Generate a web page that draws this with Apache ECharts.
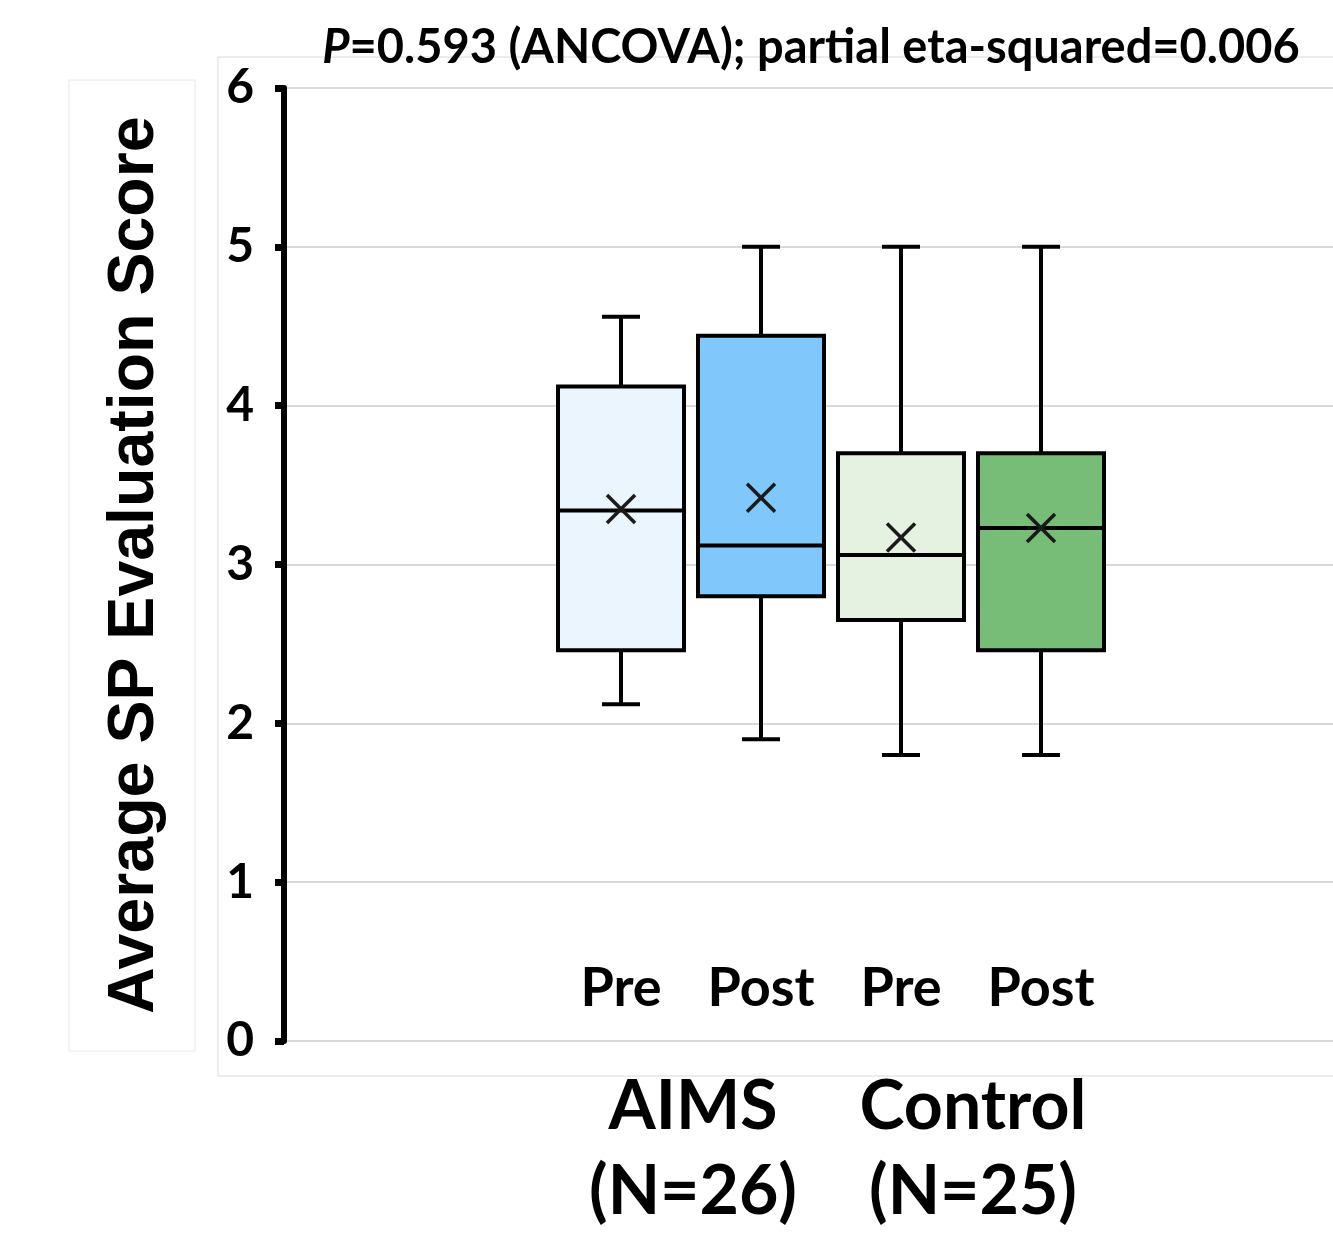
<!DOCTYPE html>
<html>
<head>
<meta charset="utf-8">
<script src="https://cdn.jsdelivr.net/npm/echarts@6/dist/echarts.min.js"></script>
<style>
  html, body { margin: 0; padding: 0; background: #fff; }
  #main { width: 1333px; height: 1245px; }
</style>
</head>
<body>
<div id="main"></div>
<script>
// box categories, left to right
var categories = ['Pre', 'Post', 'Pre', 'Post'];
var lows    = [2.12, 1.90, 1.80, 1.80];
var q1s     = [2.46, 2.80, 2.65, 2.46];
var medians = [3.34, 3.12, 3.06, 3.23];
var q3s     = [4.12, 4.44, 3.70, 3.70];
var highs   = [4.56, 5.00, 5.00, 5.00];
var means   = [3.35, 3.42, 3.17, 3.23];
var boxColors = ['#eaf5fe', '#80c8fc', '#e6f2e1', '#77bc77'];

var yTicks = [0, 1, 2, 3, 4, 5, 6];
var groupNames = ['AIMS', 'Control'];
var groupNs = ['(N=26)', '(N=25)'];
var titleItalic = 'P';
var titleRest = '=0.593 (ANCOVA); partial eta-squared=0.006';
var yName = 'Average SP Evaluation Score';

var FONT = 'Lato';

var boxData = categories.map(function (c, i) {
  return [i, lows[i], q1s[i], medians[i], q3s[i], highs[i], means[i]];
});

function renderBox(params, api) {
  var i = api.value(0);
  var band = api.size([1, 0])[0];
  var w = band * 0.9;
  var cap = 38;
  var pLow = api.coord([i, api.value(1)]);
  var pQ1 = api.coord([i, api.value(2)]);
  var pMed = api.coord([i, api.value(3)]);
  var pQ3 = api.coord([i, api.value(4)]);
  var pHigh = api.coord([i, api.value(5)]);
  var pMean = api.coord([i, api.value(6)]);
  var x = pQ1[0];
  var line = { stroke: '#000', lineWidth: 4 };
  var m = 14;
  return {
    type: 'group',
    children: [
      { type: 'line', shape: { x1: x, y1: pHigh[1], x2: x, y2: pQ3[1] }, style: line },
      { type: 'line', shape: { x1: x - cap / 2, y1: pHigh[1], x2: x + cap / 2, y2: pHigh[1] }, style: line },
      { type: 'line', shape: { x1: x, y1: pQ1[1], x2: x, y2: pLow[1] }, style: line },
      { type: 'line', shape: { x1: x - cap / 2, y1: pLow[1], x2: x + cap / 2, y2: pLow[1] }, style: line },
      { type: 'rect', shape: { x: x - w / 2, y: pQ3[1], width: w, height: pQ1[1] - pQ3[1] },
        style: { fill: boxColors[i], stroke: '#000', lineWidth: 4 } },
      { type: 'line', shape: { x1: x - w / 2, y1: pMed[1], x2: x + w / 2, y2: pMed[1] }, style: line },
      { type: 'line', shape: { x1: x - m, y1: pMean[1] - m, x2: x + m, y2: pMean[1] + m },
        style: { stroke: '#1a1a1a', lineWidth: 3.5 } },
      { type: 'line', shape: { x1: x + m, y1: pMean[1] - m, x2: x - m, y2: pMean[1] + m },
        style: { stroke: '#1a1a1a', lineWidth: 3.5 } }
    ]
  };
}

var chart = echarts.init(document.getElementById('main'));
chart.setOption({
  backgroundColor: '#fff',
  animation: false,
  grid: [
    { left: 284, right: 0, top: 88, bottom: 204 },
    { left: 551, width: 560, top: 88, bottom: 204 }
  ],
  xAxis: [
    { gridIndex: 0, type: 'value', min: 0, max: 1, show: false },
    {
      gridIndex: 1, type: 'category', data: categories,
      axisLine: { show: false }, axisTick: { show: false },
      axisLabel: {
        inside: true, margin: 25, fontFamily: FONT, fontWeight: 'bold',
        fontSize: 54, lineHeight: 54, color: '#000'
      }
    }
  ],
  yAxis: [
    {
      gridIndex: 0, type: 'value', min: yTicks[0], max: yTicks[yTicks.length - 1], interval: 1,
      axisLine: { show: true, lineStyle: { color: '#000', width: 6 } },
      axisTick: { show: true, length: 9, lineStyle: { color: '#000', width: 7 } },
      axisLabel: { margin: 30, fontFamily: FONT, fontWeight: 'bold', fontSize: 48, color: '#000' },
      splitLine: { show: true, lineStyle: { color: '#d9d9d9', width: 2 } }
    },
    { gridIndex: 1, type: 'value', min: yTicks[0], max: yTicks[yTicks.length - 1], show: false }
  ],
  series: [
    {
      type: 'custom',
      xAxisIndex: 1,
      yAxisIndex: 1,
      renderItem: renderBox,
      encode: { x: 0, y: [1, 2, 3, 4, 5, 6] },
      data: boxData,
      z: 5
    }
  ],
  graphic: [
    { type: 'rect', silent: true, shape: { x: 218, y: 57, width: 1200, height: 1019 },
      style: { fill: 'none', stroke: '#dadada', lineWidth: 1 }, z: -10 },
    { type: 'rect', silent: true, shape: { x: 69, y: 80, width: 126, height: 971 },
      style: { fill: 'none', stroke: '#e8e8e8', lineWidth: 1 }, z: -10 },
    { type: 'text', x: 135, y: 565, rotation: Math.PI / 2,
      style: { text: yName, fontFamily: 'Liberation Sans', fontWeight: 'bold', fontSize: 64.5,
        fill: '#000', align: 'center', verticalAlign: 'middle' } },
    { type: 'text', x: 811, y: 48,
      style: {
        text: '{i|' + titleItalic + '}{b|' + titleRest + '}',
        align: 'center', verticalAlign: 'middle',
        rich: {
          i: { fontFamily: FONT, fontWeight: 'bold', fontStyle: 'italic', fontSize: 47, fill: '#000' },
          b: { fontFamily: FONT, fontWeight: 'bold', fontSize: 47, fill: '#000' }
        }
      } },
    { type: 'text', x: 693, y: 1107,
      style: { text: groupNames[0], fontFamily: FONT, fontWeight: 'bold', fontSize: 68, fill: '#000',
        align: 'center', verticalAlign: 'middle' } },
    { type: 'text', x: 693, y: 1192,
      style: { text: groupNs[0], fontFamily: FONT, fontWeight: 'bold', fontSize: 68, fill: '#000',
        align: 'center', verticalAlign: 'middle' } },
    { type: 'text', x: 973, y: 1107,
      style: { text: groupNames[1], fontFamily: FONT, fontWeight: 'bold', fontSize: 68, fill: '#000',
        align: 'center', verticalAlign: 'middle' } },
    { type: 'text', x: 973, y: 1192,
      style: { text: groupNs[1], fontFamily: FONT, fontWeight: 'bold', fontSize: 68, fill: '#000',
        align: 'center', verticalAlign: 'middle' } }
  ]
});
</script>
</body>
</html>
